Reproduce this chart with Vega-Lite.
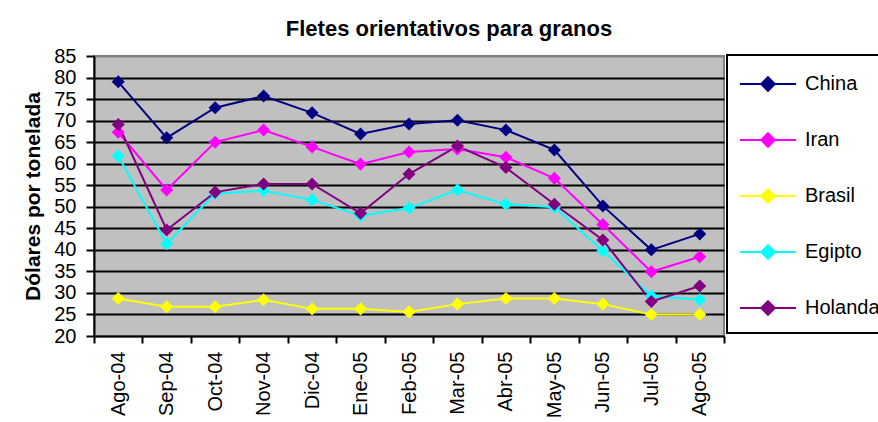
{
  "$schema": "https://vega.github.io/schema/vega-lite/v6.json",
  "width": 630,
  "height": 280,
  "autosize": {"type": "none"},
  "padding": {"left": 94, "top": 56, "right": 154, "bottom": 86},
  "background": "white",
  "title": {
    "text": "Fletes orientativos para granos",
    "font": "Liberation Sans",
    "fontSize": 22,
    "fontWeight": "bold",
    "color": "black",
    "anchor": "middle",
    "dx": 40,
    "baseline": "alphabetic",
    "offset": -12
  },
  "config": {
    "font": "Liberation Sans",
    "view": {"fill": "#C0C0C0", "stroke": "#808080", "strokeWidth": 2}
  },
  "data": {
    "values": [
      {"month": "Ago-04", "country": "China", "value": 79},
      {"month": "Sep-04", "country": "China", "value": 66},
      {"month": "Oct-04", "country": "China", "value": 73},
      {"month": "Nov-04", "country": "China", "value": 75.7},
      {"month": "Dic-04", "country": "China", "value": 71.8},
      {"month": "Ene-05", "country": "China", "value": 66.9},
      {"month": "Feb-05", "country": "China", "value": 69.2},
      {"month": "Mar-05", "country": "China", "value": 70.1},
      {"month": "Abr-05", "country": "China", "value": 67.8},
      {"month": "May-05", "country": "China", "value": 63.2},
      {"month": "Jun-05", "country": "China", "value": 50.2},
      {"month": "Jul-05", "country": "China", "value": 40},
      {"month": "Ago-05", "country": "China", "value": 43.7},
      {"month": "Ago-04", "country": "Iran", "value": 67.3},
      {"month": "Sep-04", "country": "Iran", "value": 53.9},
      {"month": "Oct-04", "country": "Iran", "value": 65},
      {"month": "Nov-04", "country": "Iran", "value": 67.8},
      {"month": "Dic-04", "country": "Iran", "value": 63.9},
      {"month": "Ene-05", "country": "Iran", "value": 59.9},
      {"month": "Feb-05", "country": "Iran", "value": 62.7},
      {"month": "Mar-05", "country": "Iran", "value": 63.4},
      {"month": "Abr-05", "country": "Iran", "value": 61.5},
      {"month": "May-05", "country": "Iran", "value": 56.6},
      {"month": "Jun-05", "country": "Iran", "value": 45.9},
      {"month": "Jul-05", "country": "Iran", "value": 34.9},
      {"month": "Ago-05", "country": "Iran", "value": 38.4},
      {"month": "Ago-04", "country": "Brasil", "value": 28.7},
      {"month": "Sep-04", "country": "Brasil", "value": 26.8},
      {"month": "Oct-04", "country": "Brasil", "value": 26.8},
      {"month": "Nov-04", "country": "Brasil", "value": 28.4},
      {"month": "Dic-04", "country": "Brasil", "value": 26.3},
      {"month": "Ene-05", "country": "Brasil", "value": 26.3},
      {"month": "Feb-05", "country": "Brasil", "value": 25.6},
      {"month": "Mar-05", "country": "Brasil", "value": 27.4},
      {"month": "Abr-05", "country": "Brasil", "value": 28.7},
      {"month": "May-05", "country": "Brasil", "value": 28.7},
      {"month": "Jun-05", "country": "Brasil", "value": 27.4},
      {"month": "Jul-05", "country": "Brasil", "value": 25},
      {"month": "Ago-05", "country": "Brasil", "value": 25},
      {"month": "Ago-04", "country": "Egipto", "value": 61.8},
      {"month": "Sep-04", "country": "Egipto", "value": 41.4},
      {"month": "Oct-04", "country": "Egipto", "value": 53.1},
      {"month": "Nov-04", "country": "Egipto", "value": 53.7},
      {"month": "Dic-04", "country": "Egipto", "value": 51.6},
      {"month": "Ene-05", "country": "Egipto", "value": 47.9},
      {"month": "Feb-05", "country": "Egipto", "value": 49.7},
      {"month": "Mar-05", "country": "Egipto", "value": 53.9},
      {"month": "Abr-05", "country": "Egipto", "value": 50.6},
      {"month": "May-05", "country": "Egipto", "value": 49.9},
      {"month": "Jun-05", "country": "Egipto", "value": 39.8},
      {"month": "Jul-05", "country": "Egipto", "value": 29.3},
      {"month": "Ago-05", "country": "Egipto", "value": 28.4},
      {"month": "Ago-04", "country": "Holanda", "value": 69.1},
      {"month": "Sep-04", "country": "Holanda", "value": 44.6},
      {"month": "Oct-04", "country": "Holanda", "value": 53.4},
      {"month": "Nov-04", "country": "Holanda", "value": 55.3},
      {"month": "Dic-04", "country": "Holanda", "value": 55.3},
      {"month": "Ene-05", "country": "Holanda", "value": 48.5},
      {"month": "Feb-05", "country": "Holanda", "value": 57.6},
      {"month": "Mar-05", "country": "Holanda", "value": 64.1},
      {"month": "Abr-05", "country": "Holanda", "value": 59.1},
      {"month": "May-05", "country": "Holanda", "value": 50.6},
      {"month": "Jun-05", "country": "Holanda", "value": 42.3},
      {"month": "Jul-05", "country": "Holanda", "value": 28},
      {"month": "Ago-05", "country": "Holanda", "value": 31.6}
    ]
  },
  "encoding": {
    "x": {
      "field": "month",
      "type": "nominal",
      "sort": null,
      "scale": {"type": "band", "paddingInner": 0, "paddingOuter": 0},
      "axis": {
        "title": null,
        "labelAngle": -90,
        "labelFontSize": 20,
        "labelColor": "black",
        "labelPadding": 8,
        "tickBand": "extent",
        "tickSize": 7,
        "tickColor": "black",
        "tickWidth": 2,
        "domainColor": "black",
        "domainWidth": 2,
        "grid": false
      }
    },
    "y": {
      "field": "value",
      "type": "quantitative",
      "scale": {"domain": [20, 85], "nice": false, "zero": false},
      "axis": {
        "title": "Dólares por tonelada",
        "titleFontSize": 21,
        "titleFontWeight": "bold",
        "titleColor": "black",
        "titlePadding": 10,
        "values": [20, 25, 30, 35, 40, 45, 50, 55, 60, 65, 70, 75, 80, 85],
        "labelFontSize": 20,
        "labelColor": "black",
        "labelPadding": 10,
        "tickSize": 8,
        "tickColor": "black",
        "tickWidth": 2,
        "domainColor": "black",
        "domainWidth": 2,
        "grid": true,
        "gridColor": {"condition": {"test": "datum.value == 85 || datum.value == 20", "value": "#808080"}, "value": "black"},
        "gridWidth": 2,
        "gridOpacity": 1
      }
    },
    "color": {
      "field": "country",
      "type": "nominal",
      "scale": {
        "domain": ["China", "Iran", "Brasil", "Egipto", "Holanda"],
        "range": ["#000080", "#FF00FF", "#FFFF00", "#00FFFF", "#800080"]
      },
      "legend": {
        "title": " ",
        "titleOrient": "bottom",
        "titleFontSize": 14,
        "titlePadding": 0,
        "orient": "none",
        "legendX": 633,
        "legendY": -1,
        "padding": 0,
        "rowPadding": 16,
        "symbolType": "M-1,0L1,0M0,-0.24L0.24,0L0,0.24L-0.24,0Z",
        "symbolSize": 3136,
        "symbolStrokeWidth": 2,
        "symbolOffset": 12,
        "labelOffset": 8,
        "labelFontSize": 20,
        "labelColor": "black",
        "labelLimit": 400,
        "labelExpr": "datum.label + '            '",
        "strokeColor": "black",
        "fillColor": "white",
        "encode": {
          "legend": {"update": {"strokeWidth": {"value": 2}}},
          "symbols": {
            "update": {
              "fill": {"scale": "color", "field": "value"},
              "stroke": {"scale": "color", "field": "value"},
              "opacity": {"value": 1}
            }
          }
        }
      }
    }
  },
  "layer": [
    {"mark": {"type": "line", "strokeWidth": 2}},
    {"mark": {"type": "point", "shape": "diamond", "filled": true, "size": 170, "opacity": 1}}
  ]
}
